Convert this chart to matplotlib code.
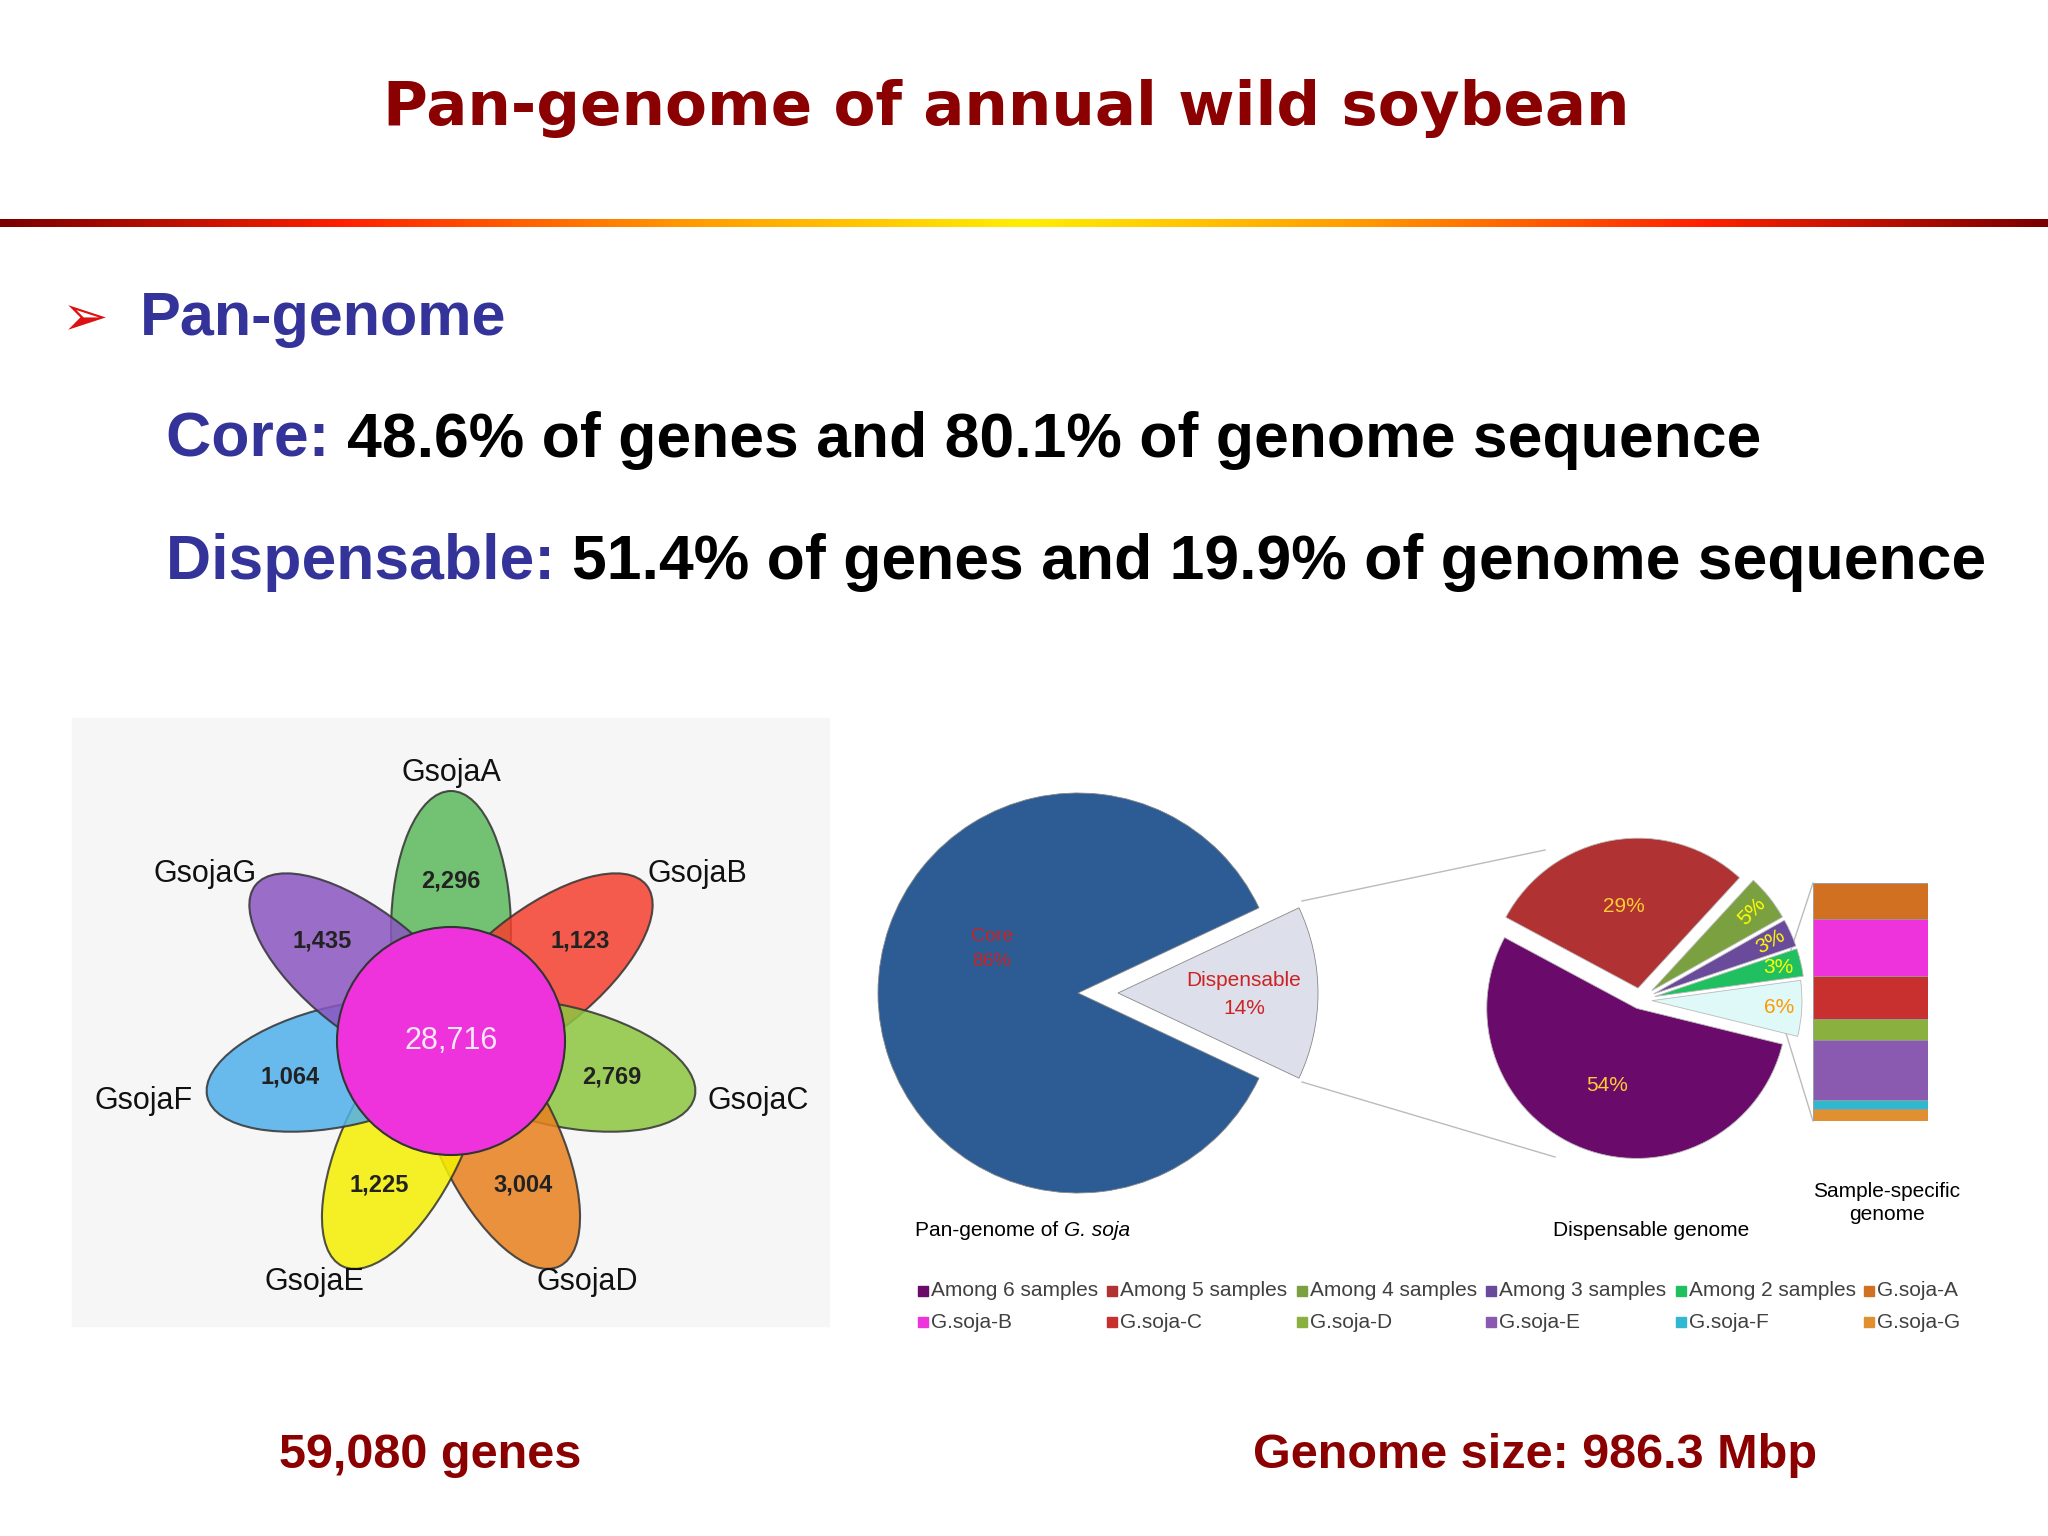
import numpy as np
import matplotlib.pyplot as plt
from matplotlib.patches import Ellipse, Circle, Rectangle
from matplotlib.colors import LinearSegmentedColormap

# ---- data ----
petal_names = ['GsojaA', 'GsojaB', 'GsojaC', 'GsojaD', 'GsojaE', 'GsojaF', 'GsojaG']
petal_counts = ['2,296', '1,123', '2,769', '3,004', '1,225', '1,064', '1,435']
petal_colors = ['#5cb85c', '#f4402e', '#8dc63f', '#e8801e', '#f5f000', '#4fb0ec', '#8a55c0']
core_count = '28,716'

pan_labels = ['Dispensable', 'Core']
pan_values = [14, 86]
pan_colors = ['#dde0ea', '#2c5c93']

disp_values = [6, 3, 3, 5, 29, 54]
disp_colors = ['#dff8f8', '#20c060', '#6a4a9a', '#7aa040', '#b03232', '#6a0a6a']
disp_text_colors = ['#ff9900', '#ffff00', '#ffff00', '#ffff00', '#ffcc33', '#ffcc33']

spec_labels = ['G.soja-A', 'G.soja-B', 'G.soja-C', 'G.soja-D', 'G.soja-E', 'G.soja-F', 'G.soja-G']
spec_values = [15, 24, 18, 9, 25, 4, 5]
spec_colors = ['#d07020', '#ee33dd', '#c83030', '#8ab040', '#8a5ab0', '#30b8d0', '#e09030']

legend_labels = ['Among 6 samples', 'Among 5 samples', 'Among 4 samples', 'Among 3 samples',
                 'Among 2 samples', 'G.soja-A', 'G.soja-B', 'G.soja-C', 'G.soja-D',
                 'G.soja-E', 'G.soja-F', 'G.soja-G']
legend_colors = ['#6a0a6a', '#b03232', '#7aa040', '#6a4a9a', '#20c060', '#d07020',
                 '#ee33dd', '#c83030', '#8ab040', '#8a5ab0', '#30b8d0', '#e09030']

W, H = 2048, 1536
fig = plt.figure(figsize=(20.48, 15.36), dpi=100)
ax = fig.add_axes([0, 0, 1, 1])
ax.set_xlim(0, W)
ax.set_ylim(H, 0)
ax.axis('off')

sans = 'Liberation Sans'
dred = '#8b0000'
blue = '#333399'

# title and gradient rule
ax.text(1006, 108, 'Pan-genome of annual wild soybean', ha='center', va='center',
        fontsize=44, fontweight='bold', color=dred, family='DejaVu Sans')
grad = LinearSegmentedColormap.from_list('g', ['#7a0000', '#ff2000', '#ff9900', '#ffee00',
                                               '#ff9900', '#ff2000', '#7a0000'])
ax.imshow(np.linspace(0, 1, 512)[None, :], cmap=grad, aspect='auto',
          extent=(0, W, 227, 219), zorder=1)

# bullet text
ax.text(85, 320, '\u27a2', ha='center', va='center', fontsize=40, color='#dd1111', family='DejaVu Sans')
ax.text(140, 320, 'Pan-genome', ha='left', va='center', fontsize=44, fontweight='bold', color=blue, family=sans)
for y, head, rest in [(440, 'Core: ', '48.6% of genes and 80.1% of genome sequence'),
                      (562, 'Dispensable: ', '51.4% of genes and 19.9% of genome sequence')]:
    t = ax.text(166, y, head, ha='left', va='center', fontsize=45, fontweight='bold', color=blue, family=sans)
    ax.annotate(rest, xycoords=t, xy=(1, 0.5), va='center', ha='left', fontsize=45,
                fontweight='bold', color='black', family=sans)

# ---- flower venn ----
ax.add_patch(Rectangle((72, 718), 757, 608, color='#f6f6f6', zorder=1))
cx, cy = 451, 1041
d, a_major, b_minor = 110, 140, 60
for i, (name, cnt, col) in enumerate(zip(petal_names, petal_counts, petal_colors)):
    ang = np.deg2rad(90 - i * 360 / 7)
    ex, ey = cx + d * np.cos(ang), cy - d * np.sin(ang)
    ax.add_patch(Ellipse((ex, ey), 2 * a_major, 2 * b_minor, angle=-np.rad2deg(ang),
                         facecolor=col, alpha=0.85, edgecolor='#333333', lw=1.5, zorder=2))
    ax.text(cx + 165 * np.cos(ang), cy - 160 * np.sin(ang), cnt, ha='center', va='center',
            fontsize=17, fontweight='bold', color='#222222', family=sans, zorder=5)
    ax.text(cx + 315 * np.cos(ang), cy - 268 * np.sin(ang), name,
            ha='center', va='center', fontsize=22, color='#111111', family=sans, zorder=5)
ax.add_patch(Circle((cx, cy), 114, facecolor='#ee33dd', edgecolor='#333333', lw=1.5, zorder=3))
ax.text(cx, cy, core_count, ha='center', va='center', fontsize=22, color='#f8e8f8', family=sans, zorder=5)

# ---- pies ----
def px_axes(x, y, r, L=1.3):
    s = 2 * L * r
    a = fig.add_axes([(x - s / 2) / W, 1 - (y + s / 2) / H, s / W, s / H])
    a.axis('off')
    return a

def fix_lim(a, L=1.3):
    a.set_xlim(-L, L)
    a.set_ylim(-L, L)
    a.set_aspect('equal')

ap = px_axes(1078, 993, 200)
ap.pie(pan_values, colors=pan_colors, startangle=-25.2, explode=[0.2, 0],
       wedgeprops=dict(edgecolor='#888888', lw=0.6), radius=1)
fix_lim(ap)
ap.text(-0.43, 0.22, 'Core\n86%', ha='center', va='center', fontsize=14, color='#cc2222',
        family=sans, linespacing=1.6)
ap.text(0.83, -0.01, 'Dispensable\n14%', ha='center', va='center', fontsize=15, color='#cc2222',
        family=sans, linespacing=1.6)

ad = px_axes(1640, 1000, 150, L=1.35)
wedges, _ = ad.pie(disp_values, colors=disp_colors, startangle=-13.8,
                   explode=[0.08, 0.1, 0.1, 0.1, 0.08, 0.06],
                   wedgeprops=dict(edgecolor='#bbbbbb', lw=0.6))
fix_lim(ad, 1.35)
rots = [0, 0, 30, 45, 0, 0]
for w, v, tc, rt in zip(wedges, disp_values, disp_text_colors, rots):
    th = np.deg2rad((w.theta1 + w.theta2) / 2)
    rr = 0.55 if v > 20 else 0.85
    cxw, cyw = w.center
    ad.text(cxw + rr * np.cos(th), cyw + rr * np.sin(th), f'{v}%', ha='center', va='center',
            fontsize=15, color=tc, family=sans, rotation=rt)

# stacked bar
ab = fig.add_axes([1813 / W, 1 - 1121 / H, 115 / W, (1121 - 883) / H])
bottom = 0
for v, c in zip(spec_values, spec_colors):
    ab.bar(0, v, bottom=bottom, color=c, width=1, edgecolor='#999999', lw=0.6)
    bottom += v
ab.set_xlim(-0.5, 0.5)
ab.set_ylim(100, 0)
ab.axis('off')

# connector lines
for (x0, y0), (x1, y1) in [((1302, 901), (1545, 850)), ((1302, 1082), (1555, 1157)),
                           ((1785, 968), (1813, 883)), ((1785, 1030), (1813, 1121))]:
    ax.plot([x0, x1], [y0, y1], color='#bbbbbb', lw=1, zorder=1)

t = ax.text(915, 1230, 'Pan-genome of ', ha='left', va='center', fontsize=15,
            color='black', family=sans)
ax.annotate('G. soja', xycoords=t, xy=(1, 0.5), ha='left', va='center', fontsize=15,
            style='italic', color='black', family=sans)
ax.text(1651, 1230, 'Dispensable genome', ha='center', va='center', fontsize=15, color='black', family=sans)
ax.text(1887, 1203, 'Sample-specific\ngenome', ha='center', va='center', fontsize=15,
        color='black', family=sans, linespacing=1.3)

# legend
col_x = [918, 1107, 1297, 1486, 1676, 1864]
for k, (lab, c) in enumerate(zip(legend_labels, legend_colors)):
    x = col_x[k % 6]
    y = 1291 if k < 6 else 1322
    ax.add_patch(Rectangle((x, y - 5), 10, 10, color=c, zorder=4))
    ax.text(x + 13, y, lab, ha='left', va='center', fontsize=15, color='#404040', family=sans)

# bottom captions
ax.text(430, 1456, '59,080 genes', ha='center', va='center', fontsize=35, fontweight='bold',
        color=dred, family=sans)
ax.text(1535, 1456, 'Genome size: 986.3 Mbp', ha='center', va='center', fontsize=35,
        fontweight='bold', color=dred, family=sans)

fig.savefig('out.png', dpi=100, facecolor='white')
